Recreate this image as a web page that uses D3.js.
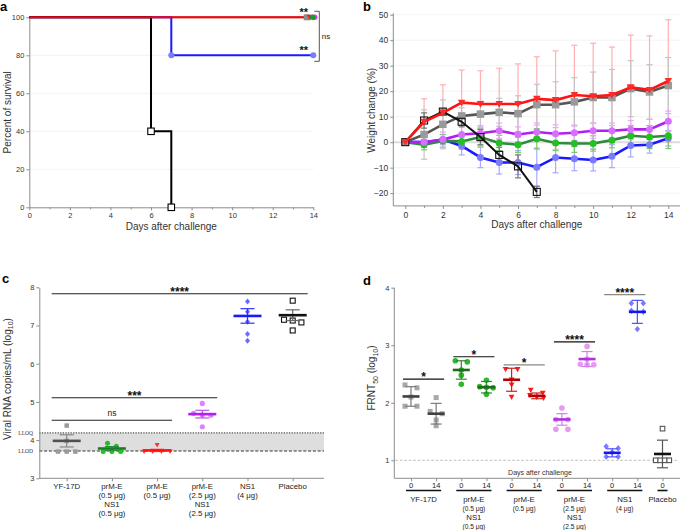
<!DOCTYPE html>
<html><head><meta charset="utf-8">
<script src="https://cdn.jsdelivr.net/npm/d3@7/dist/d3.min.js"></script>
<style>
body{margin:0;background:#fff;}
svg{font-family:"Liberation Sans",Arial,sans-serif;}
</style></head><body>
<svg id="chart" width="681" height="530"></svg>
<script>
// ================= DATA =================
// Panel a: survival (Kaplan-Meier steps)
const survPlaceboDays = [0, 6, 7];
const survPlaceboPct  = [100, 40, 0];
const survNS1Days = [0, 7, 14];
const survNS1Pct  = [100, 80, 80];
const survOtherDays = [0, 14];
const survOtherPct  = [100, 100];
const survTicksX = [0, 2, 4, 6, 8, 10, 12, 14];
const survTicksY = [0, 20, 40, 60, 80, 100];

// Panel b: weight change (%) mean and SD
const wtDays = [0,1,2,3,4,5,6,7,8,9,10,11,12,13,14];
const wtPrME      = [0,8,11.5,15.5,15,15,15,17,16.5,18.5,18,18.5,21.5,20.5,24];
const wtPrMESd    = [0,9,11,12.8,13,14,15.7,16.5,19.3,19.5,20.8,18.8,20.5,21.2,24];
const wtYF        = [0,3,7,10.3,11,11.7,11.2,14.7,14.7,15.8,17.5,17.5,21,19.7,22.2];
const wtYFSd      = [0,9.7,9.6,3.2,5,5.5,7,8,9,9.5,10,11,11,10.7,11];
const wtPlacebo   = [0,8.5,12,8,2,-5,-9.5,-19.5];
const wtPlaceboSd = [0,3,1,2,3,3,4.5,2.2];
const wtHi        = [0,0,1,3,3.5,4.5,3,4,3.3,3.7,4.5,4.5,5,5,8.2];
const wtHiSd      = [0,2,3,3.5,3,3,3,3.5,3.5,3,3,3,3.5,4,4];
const wtLo        = [0,-1,0.5,0.3,2,-0.3,-1,1.3,-0.3,-0.5,-0.5,0.8,2.5,2,2.5];
const wtLoSd      = [0,2,2.5,3,3.5,3,3,4,3,3.5,3,3,4,4.5,5];
const wtNS1       = [0,0,1,-1.5,-6,-8,-8,-9.8,-6,-6.5,-7,-5.5,-1.3,-1,1.5];
const wtNS1Sd     = [0,2,2,3.5,4,4.5,4.7,7.5,6,4.7,4.3,4.5,4.5,3.3,3];
const wtTicksY = [-20,-10,0,10,20,30,40,50];

// Panel c: viral RNA (log10)
const cCategories = [["YF-17D"],["prM-E","(0.5 μg)","NS1","(0.5 μg)"],["prM-E","(0.5 μg)"],["prM-E","(2.5 μg)","NS1","(2.5 μg)"],["NS1","(4 μg)"],["Placebo"]];
const cYF     = [4.38, 3.98, 3.7, 3.7, 3.7];
const cLo     = [3.92, 3.84, 3.7, 3.7, 3.7];
const cPrME   = [3.87, 3.7, 3.7, 3.7, 3.7];
const cHi     = [4.96, 4.7, 4.66, 4.65, 4.35];
const cNS1    = [7.63, 7.36, 7.1, 6.78, 6.6];
const cPlacebo= [7.65, 7.15, 7.13, 7.08, 6.87];
const cMeans  = [3.98, 3.78, 3.73, 4.68, 7.25, 7.27];
const cSem    = [0.16, 0.05, 0.03, 0.1, 0.19, 0.14];
const cLLOQ = 4.19, cLLOD = 3.715;
const cTicksY = [3,4,5,6,7,8];
const cSig = [{from:0,to:5,y:7.83,label:"****"},{from:0,to:3,y:5.11,label:"***"},{from:0,to:2,y:4.52,label:"ns"}];

// Panel d: FRNT50 (log10), day 0 and day 14
const dDays = ["0","14"];
const dGroups = [["YF-17D"],["prM-E","(0.5 μg)","NS1","(0.5 μg)"],["prM-E","(0.5 μg)"],["prM-E","(2.5 μg)","NS1","(2.5 μg)"],["NS1","(4 μg)"],["Placebo"]];
const dYF      = [[2.31,2.26,2.10,1.94,1.94],[2.09,1.85,1.81,1.70,1.60]];
const dLo      = [[2.73,2.71,2.57,2.48,2.32],[2.39,2.28,2.27,2.26,2.15]];
const dPrME    = [[2.58,2.58,2.40,2.31,2.10],[2.22,2.17,2.13,2.10,2.08]];
const dHi      = [[1.91,1.71,1.71,1.54,1.54],[2.98,2.76,2.67,2.66,2.66]];
const dNS1     = [[1.24,1.21,1.14,1.06,1.06],[3.73,3.73,3.60,3.58,3.28]];
const dPlacebo = [[1.55,1.0,1.0,1.0,1.0]];
const dMeans = [[2.11,1.81],[2.57,2.27],[2.40,2.12],[1.71,2.76],[1.13,3.58],[1.11]];
const dSd    = [[0.17,0.18],[0.16,0.10],[0.20,0.05],[0.10,0.13],[0.07,0.20],[0.24]];
const dTicksY = [1,2,3,4];
const dSig = [{g:0,y:2.41,label:"*",c:"#111"},{g:1,y:2.80,label:"*",c:"#111"},{g:2,y:2.66,label:"*",c:"#888"},{g:3,y:3.06,label:"****",c:"#111"},{g:4,y:3.88,label:"****",c:"#888"}];

// ================= HELPERS =================
const svg = d3.select("#chart");
const AX = "#8c8c8c";
const intFmt = d3.format("d");
function styleAxis(g, fs){
  g.attr("font-family", null);
  g.select(".domain").attr("stroke", AX);
  g.selectAll(".tick line").attr("stroke", AX);
  g.selectAll(".tick text").attr("fill", "#333").attr("font-size", fs);
}
// lay out points in horizontal rows of near-equal values, each row centred
function rows(vals, yScale, step, widthMax, thresh){
  const order = vals.map((v,i)=>({v,i,y:yScale(vals[i])})).sort((a,b)=>a.y-b.y);
  const out = new Array(vals.length);
  let cur = [];
  const flush = ()=>{
    const n = cur.length, st = n>1 ? Math.min(step, widthMax/(n-1)) : 0;
    cur.forEach((o,k)=>out[o.i]={off:(k-(n-1)/2)*st, y:o.y});
    cur = [];
  };
  order.forEach(o=>{
    if(cur.length && o.y-cur[0].y > thresh) flush();
    cur.push(o);
  });
  flush();
  return out;
}
function marker(g, shape, x, y, s, fill, stroke){
  if(shape==="square") g.append("rect").attr("x",x-s/2).attr("y",y-s/2).attr("width",s).attr("height",s).attr("fill",fill).attr("stroke",stroke||"none").attr("stroke-width",1.1);
  else if(shape==="circle") g.append("circle").attr("cx",x).attr("cy",y).attr("r",s/2).attr("fill",fill);
  else if(shape==="tri") g.append("path").attr("d",`M${x-s/2},${y-s*0.4}L${x+s/2},${y-s*0.4}L${x},${y+s*0.5}Z`).attr("fill",fill);
  else if(shape==="diamond") g.append("path").attr("d",`M${x},${y-s*0.6}L${x+s*0.5},${y}L${x},${y+s*0.6}L${x-s*0.5},${y}Z`).attr("fill",fill);
}
function panelLetter(t,x,y){svg.append("text").attr("x",x).attr("y",y).attr("font-size",13).attr("font-weight","bold").attr("fill","#000").text(t);}
function stars(g,x,y,label,size){
  g.append("text").attr("x",x).attr("y",y).attr("text-anchor","middle").attr("font-size",size||12).attr("font-weight","bold").attr("fill","#111").text(label);
}

// ================= PANEL A =================
(function(){
  const g = svg.append("g");
  const x = d3.scaleLinear().domain([0,14]).range([29.3,313.3]);
  const y = d3.scaleLinear().domain([0,100]).range([207.3,17.3]);
  g.selectAll(".grid").data(survTicksY.filter(v=>v>0&&v<100)).join("line")
    .attr("x1",x(0)).attr("x2",x(14)).attr("y1",d=>y(d)).attr("y2",d=>y(d)).attr("stroke","#f3f3f3");
  const xa = g.append("g").attr("transform",`translate(0,${y(0)})`).call(d3.axisBottom(x).tickValues(survTicksX).tickFormat(intFmt).tickSize(3).tickSizeOuter(0).tickPadding(2));
  styleAxis(xa,7.5);
  const xm = g.append("g").attr("transform",`translate(0,${y(0)})`).call(d3.axisBottom(x).tickValues(survTicksX.slice(0,-1).map(d=>d+1)).tickSize(2).tickFormat(""));
  xm.select(".domain").remove(); xm.selectAll("line").attr("stroke",AX);
  const ya = g.append("g").attr("transform",`translate(${x(0)},0)`).call(d3.axisLeft(y).tickValues(survTicksY).tickFormat(intFmt).tickSize(3).tickSizeOuter(0).tickPadding(2));
  styleAxis(ya,7.5);
  const line = d3.line().x(d=>x(d[0])).y(d=>y(d[1])).curve(d3.curveStepAfter);
  const zip = (a,b)=>a.map((v,i)=>[v,b[i]]);
  g.append("path").attr("d",line(zip(survOtherDays,survOtherPct))).attr("stroke","#888").attr("stroke-width",2).attr("fill","none");
  g.append("path").attr("d",line(zip(survNS1Days,survNS1Pct))).attr("stroke","#1a1aff").attr("stroke-width",2).attr("fill","none");
  g.append("path").attr("d",line(zip(survPlaceboDays,survPlaceboPct))).attr("stroke","#000").attr("stroke-width",2).attr("fill","none");
  g.append("path").attr("d",line(zip(survOtherDays,survOtherPct))).attr("stroke","#ff0000").attr("stroke-width",2).attr("fill","none");
  survNS1Days.slice(1).forEach((d,i)=>marker(g,"circle",x(d),y(survNS1Pct[i+1]),6,"#7b7bff"));
  survPlaceboDays.slice(1).forEach((d,i)=>marker(g,"square",x(d),y(survPlaceboPct[i+1]),6.5,"#fff","#000"));
  const xe = x(survOtherDays[1]), ye = y(survOtherPct[1]);
  marker(g,"square",xe-6.6,ye,6,"#8c8c8c");
  marker(g,"tri",xe-3.3,ye,6.5,"#ff1a1a");
  marker(g,"circle",xe+1.4,ye,5.5,"#c040ff");
  marker(g,"circle",xe-0.6,ye,5.5,"#1f9a2a");
  stars(g,xe-9.6,ye-1,"**",11);
  stars(g,xe-9.6,y(80)-1.5,"**",11);
  g.append("path").attr("d",`M${xe+1},${ye-6}H${xe+6}V${y(80)+6}H${xe+1}`).attr("fill","none").attr("stroke","#555").attr("stroke-width",1);
  g.append("text").attr("x",xe+8.5).attr("y",(ye+y(80))/2+3).attr("font-size",8).attr("fill","#222").text("ns");
  g.append("text").attr("transform",`translate(10.5,${(y(0)+y(100))/2}) rotate(-90)`).attr("text-anchor","middle").attr("font-size",10).attr("fill","#333").text("Percent of survival");
  g.append("text").attr("x",(x(0)+x(14))/2).attr("y",230).attr("text-anchor","middle").attr("font-size",10).attr("fill","#333").text("Days after challenge");
})();
panelLetter("a",0,11);

// ================= PANEL B =================
(function(){
  const g = svg.append("g");
  const x = d3.scaleLinear().domain([0,14]).range([405.3,668.3]);
  const y = d3.scaleLinear().domain([-25,50]).range([205.9,14.7]);
  const x0 = 393.3;
  g.selectAll(".grid").data(wtTicksY.filter(v=>v!==0)).join("line")
    .attr("x1",x0).attr("x2",680).attr("y1",d=>y(d)).attr("y2",d=>y(d)).attr("stroke","#f3f3f3");
  g.append("line").attr("x1",x0).attr("x2",680).attr("y1",y(0)).attr("y2",y(0)).attr("stroke","#dcdcdc").attr("stroke-width",2);
  const xa = g.append("g").attr("transform",`translate(0,${y(-25)})`).call(d3.axisBottom(x).tickValues(survTicksX).tickFormat(intFmt).tickSize(3).tickSizeOuter(0).tickPadding(3));
  styleAxis(xa,8.5);
  xa.select(".domain").attr("d",`M${x0},0H680`);
  const xm = g.append("g").attr("transform",`translate(0,${y(-25)})`).call(d3.axisBottom(x).tickValues(survTicksX.slice(0,-1).map(d=>d+1)).tickSize(2).tickFormat(""));
  xm.select(".domain").remove(); xm.selectAll("line").attr("stroke",AX);
  const ya = g.append("g").attr("transform",`translate(${x0},0)`).call(d3.axisLeft(y).tickValues(wtTicksY).tickFormat(intFmt).tickSize(3).tickSizeOuter(0).tickPadding(2));
  styleAxis(ya,8.5);
  ya.select(".domain").attr("d",`M0,${y(50)-1.5}V${y(-25)}`);

  const series = [
    {m:wtNS1, s:wtNS1Sd, line:"#1a1aff", eb:"#a9a9ff", mk:"circle", mc:"#7b7bff", size:7},
    {m:wtLo, s:wtLoSd, line:"#2e8b3e", eb:"#77cc66", mk:"circle", mc:"#22c022", size:7},
    {m:wtHi, s:wtHiSd, line:"#b020f0", eb:"#e6a8ff", mk:"circle", mc:"#d870ff", size:7},
    {m:wtYF, s:wtYFSd, line:"#555555", eb:"#c4c4c4", mk:"square", mc:"#9a9a9a", size:7.5},
    {m:wtPlacebo, s:wtPlaceboSd, line:"#111111", eb:"#777777", mk:"open", mc:"#111", size:7},
    {m:wtPrME, s:wtPrMESd, line:"#ff1414", eb:"#ffb0b0", mk:"tri", mc:"#ff2a2a", size:7.5}
  ];
  [series[5],series[3],series[0],series[1],series[2],series[4]].forEach(se=>{
    se.m.forEach((v,i)=>{
      if(i===0) return;
      const xx = x(wtDays[i]), lo=y(v-se.s[i]), hi=y(v+se.s[i]);
      g.append("line").attr("x1",xx).attr("x2",xx).attr("y1",lo).attr("y2",hi).attr("stroke",se.eb).attr("stroke-width",1.2);
      [lo,hi].forEach(yy=>g.append("line").attr("x1",xx-3).attr("x2",xx+3).attr("y1",yy).attr("y2",yy).attr("stroke",se.eb).attr("stroke-width",1.2));
    });
  });
  const line = d3.line().x((d,i)=>x(wtDays[i])).y(d=>y(d));
  series.forEach(se=>{
    g.append("path").attr("d",line(se.m)).attr("fill","none").attr("stroke",se.line).attr("stroke-width",se.mk==="open"?2:2.6);
    se.m.forEach((v,i)=>{
      const xx=x(wtDays[i]), yy=y(v);
      if(se.mk==="open") marker(g,"square",xx,yy,se.size,"none","#111");
      else marker(g,se.mk,xx,yy,se.size,se.mc);
    });
  });
  g.append("text").attr("transform",`translate(375,${(y(50)+y(-25))/2}) rotate(-90)`).attr("text-anchor","middle").attr("font-size",10).attr("fill","#333").text("Weight change (%)");
  g.append("text").attr("x",(x(0)+x(14))/2).attr("y",228).attr("text-anchor","middle").attr("font-size",10).attr("fill","#333").text("Days after challenge");
})();
panelLetter("b",363,11);

// ================= PANEL C =================
(function(){
  const g = svg.append("g");
  const x = d3.scalePoint().domain(d3.range(cCategories.length)).range([66.7,292.7]);
  const y = d3.scaleLinear().domain([3,8]).range([478.3,287.3]);
  const x0 = 39.3, x1 = 324;
  g.append("rect").attr("x",x0).attr("width",x1-x0).attr("y",y(cLLOQ)).attr("height",y(cLLOD)-y(cLLOQ)).attr("fill","#dedede");
  g.append("line").attr("x1",x0).attr("x2",x1).attr("y1",y(cLLOQ)).attr("y2",y(cLLOQ)).attr("stroke","#555").attr("stroke-width",1.2).attr("stroke-dasharray","1.3,1.3");
  g.append("line").attr("x1",x0).attr("x2",x1).attr("y1",y(cLLOD)).attr("y2",y(cLLOD)).attr("stroke","#333").attr("stroke-width",1.2).attr("stroke-dasharray","3,1.8");
  g.append("text").attr("x",33).attr("y",y(cLLOQ)+2).attr("text-anchor","end").attr("font-size",5.5).attr("font-family","Liberation Serif").attr("fill","#333").text("LLOQ");
  g.append("text").attr("x",33).attr("y",y(cLLOD)+2).attr("text-anchor","end").attr("font-size",5.5).attr("font-family","Liberation Serif").attr("fill","#333").text("LLOD");
  const ya = g.append("g").attr("transform",`translate(${x0},0)`).call(d3.axisLeft(y).tickValues(cTicksY).tickFormat(intFmt).tickSize(3).tickSizeOuter(0).tickPadding(2));
  styleAxis(ya,7.5);
  const xa = g.append("g").attr("transform",`translate(0,${y(3)})`).call(d3.axisBottom(x).tickSize(3).tickSizeOuter(0).tickFormat(""));
  styleAxis(xa,7.5);
  xa.select(".domain").attr("d",`M${x0},0H${x1}`);
  cCategories.forEach((lines,i)=>{
    lines.forEach((t,j)=>g.append("text").attr("x",x(i)).attr("y",488.5+j*9).attr("text-anchor","middle").attr("font-size",7.8).attr("fill","#222").text(t));
  });
  const groups = [
    {v:cYF, mk:"square", c:"#9a9a9a", mean:"#505050", eb:"#888", s:4.5},
    {v:cLo, mk:"circle", c:"#22c022", mean:"#1e7a2a", eb:"#2a8a3a", s:5},
    {v:cPrME, mk:"tri", c:"#ff3030", mean:"#ff1010", eb:"#ff5050", s:5},
    {v:cHi, mk:"circle", c:"#e080ff", mean:"#b020f0", eb:"#c050f0", s:5.2},
    {v:cNS1, mk:"diamond", c:"#6a6aff", mean:"#1a1aff", eb:"#3030ff", s:5},
    {v:cPlacebo, mk:"open", c:"#000", mean:"#111", eb:"#666", s:5}
  ];
  groups.forEach((gr,i)=>{
    const cx = x(i);
    const pos = rows(gr.v, y, 8.7, 27, 4);
    pos.forEach(p=>{
      if(gr.mk==="open") marker(g,"square",cx+p.off,p.y,gr.s,"none","#111");
      else marker(g,gr.mk,cx+p.off,p.y,gr.s,gr.c);
    });
    const m=cMeans[i], s=cSem[i];
    g.append("line").attr("x1",cx).attr("x2",cx).attr("y1",y(m-s)).attr("y2",y(m+s)).attr("stroke",gr.eb).attr("stroke-width",1.2);
    [m-s,m+s].forEach(v=>g.append("line").attr("x1",cx-7).attr("x2",cx+7).attr("y1",y(v)).attr("y2",y(v)).attr("stroke",gr.eb).attr("stroke-width",1.2));
    g.append("line").attr("x1",cx-14).attr("x2",cx+14).attr("y1",y(m)).attr("y2",y(m)).attr("stroke",gr.mean).attr("stroke-width",2.6);
  });
  cSig.forEach(s=>{
    const xa1 = x(s.from)-15, xb = x(s.to)+15;
    g.append("line").attr("x1",xa1).attr("x2",xb).attr("y1",y(s.y)).attr("y2",y(s.y)).attr("stroke","#222").attr("stroke-width",1.1);
    if(s.label==="ns") g.append("text").attr("x",(xa1+xb)/2).attr("y",y(s.y)-4).attr("text-anchor","middle").attr("font-size",8.5).attr("fill","#222").text("ns");
    else stars(g,(xa1+xb)/2,y(s.y)+2,s.label,12);
  });
  g.append("text").attr("transform",`translate(10.5,379) rotate(-90)`).attr("text-anchor","middle").attr("font-size",10).attr("fill","#333")
    .call(t=>{t.append("tspan").text("Viral RNA copies/mL (log");t.append("tspan").attr("font-size",7).attr("dy",2.5).text("10");t.append("tspan").attr("dy",-2.5).text(")");});
})();
panelLetter("c",2,283);

// ================= PANEL D =================
(function(){
  const g = svg.append("g");
  const slots = [];
  dGroups.forEach((gl,gi)=>{ const n = gi===dGroups.length-1?1:2; for(let j=0;j<n;j++) slots.push({g:gi,d:j}); });
  const x = d3.scalePoint().domain(d3.range(slots.length)).range([411,662.5]);
  const y = d3.scaleLinear().domain([1,4]).range([460.3,287.7]);
  const yBottom = 478.3, x0 = 394.3, x1 = 680;
  const ya = g.append("g").attr("transform",`translate(${x0},0)`).call(d3.axisLeft(y).tickValues(dTicksY).tickFormat(intFmt).tickSize(3).tickSizeOuter(0).tickPadding(2));
  styleAxis(ya,7.5);
  ya.select(".domain").attr("d",`M0,${y(4)}V${yBottom}`);
  const xa = g.append("g").attr("transform",`translate(0,${yBottom})`).call(d3.axisBottom(x).tickSize(3).tickSizeOuter(0).tickFormat(""));
  styleAxis(xa,7.5);
  xa.select(".domain").attr("d",`M${x0},0H${x1}`);
  g.append("line").attr("x1",x0+1).attr("x2",678).attr("y1",y(1)).attr("y2",y(1)).attr("stroke","#bbb").attr("stroke-width",1).attr("stroke-dasharray","2.5,2");
  g.append("text").attr("x",540).attr("y",474.5).attr("text-anchor","middle").attr("font-size",7).attr("fill","#333").text("Days after challenge");
  slots.forEach((s,i)=>{
    g.append("text").attr("x",x(i)).attr("y",487.5).attr("text-anchor","middle").attr("font-size",7.5).attr("fill","#222").text(dDays[s.d]);
  });
  dGroups.forEach((lines,gi)=>{
    const idx = slots.map((s,i)=>s.g===gi?i:-1).filter(i=>i>=0);
    const xa1 = x(idx[0])-5, xb = x(idx[idx.length-1])+5, cx=(x(idx[0])+x(idx[idx.length-1]))/2;
    g.append("line").attr("x1",xa1).attr("x2",xb).attr("y1",490.5).attr("y2",490.5).attr("stroke","#111").attr("stroke-width",1.6);
    const ys=[502,511,520,528.5];
    lines.forEach((t,j)=>{
      const small = t.startsWith("(");
      g.append("text").attr("x",cx).attr("y",ys[j]).attr("text-anchor","middle").attr("font-size",small?6.6:7.8).attr("fill","#222").text(t);
    });
  });
  const styles = [
    {v:dYF, mk:"square", c:["#a8a8a8","#a8a8a8"], mean:"#404040", eb:"#7a7a7a", s:5},
    {v:dLo, mk:"circle", c:["#2db82d","#2db82d"], mean:"#1a6b1a", eb:"#2a8a2a", s:5.6},
    {v:dPrME, mk:"tri", c:["#ff1a1a","#ff1a1a"], mean:"#b30000", eb:"#cc2020", s:5.8},
    {v:dHi, mk:"circle", c:["#e69af0","#e69af0"], mean:"#b030e0", eb:"#d080f0", s:5.6},
    {v:dNS1, mk:"diamond", c:["#7b7bff","#7b7bff"], mean:"#1515ee", eb:"#5050ff", s:5.4},
    {v:dPlacebo, mk:"open", c:["#555"], mean:"#111", eb:"#555", s:4.6}
  ];
  slots.forEach((s,i)=>{
    const st = styles[s.g], vals = st.v[s.d], cx = x(i);
    const pos = rows(vals, y, 12, 13.5, 4);
    pos.forEach(p=>{
      if(st.mk==="open") marker(g,"square",cx+p.off,p.y,st.s,"#fff","#555");
      else marker(g,st.mk,cx+p.off,p.y,st.s,st.c[s.d]);
    });
    const m = dMeans[s.g][s.d], sd = dSd[s.g][s.d];
    g.append("line").attr("x1",cx).attr("x2",cx).attr("y1",y(m-sd)).attr("y2",y(m+sd)).attr("stroke",st.eb).attr("stroke-width",1.2);
    [m-sd,m+sd].forEach(v=>g.append("line").attr("x1",cx-5.5).attr("x2",cx+5.5).attr("y1",y(v)).attr("y2",y(v)).attr("stroke",st.eb).attr("stroke-width",1.2));
    g.append("line").attr("x1",cx-8.5).attr("x2",cx+8.5).attr("y1",y(m)).attr("y2",y(m)).attr("stroke",st.mean).attr("stroke-width",2.6);
  });
  dSig.forEach(s=>{
    const idx = slots.map((sl,i)=>sl.g===s.g?i:-1).filter(i=>i>=0);
    const xa1 = x(idx[0])-8, xb = x(idx[idx.length-1])+8;
    g.append("line").attr("x1",xa1).attr("x2",xb).attr("y1",y(s.y)).attr("y2",y(s.y)).attr("stroke",s.c).attr("stroke-width",1.2);
    stars(g,(xa1+xb)/2,y(s.y)+2,s.label,12);
  });
  g.append("text").attr("transform",`translate(375,378) rotate(-90)`).attr("text-anchor","middle").attr("font-size",10).attr("fill","#333")
    .call(t=>{t.append("tspan").text("FRNT");t.append("tspan").attr("font-size",7).attr("dy",2.5).text("50");t.append("tspan").attr("dy",-2.5).text(" (log");t.append("tspan").attr("font-size",7).attr("dy",2.5).text("10");t.append("tspan").attr("dy",-2.5).text(")");});
})();
panelLetter("d",363,285);
</script>
</body></html>
